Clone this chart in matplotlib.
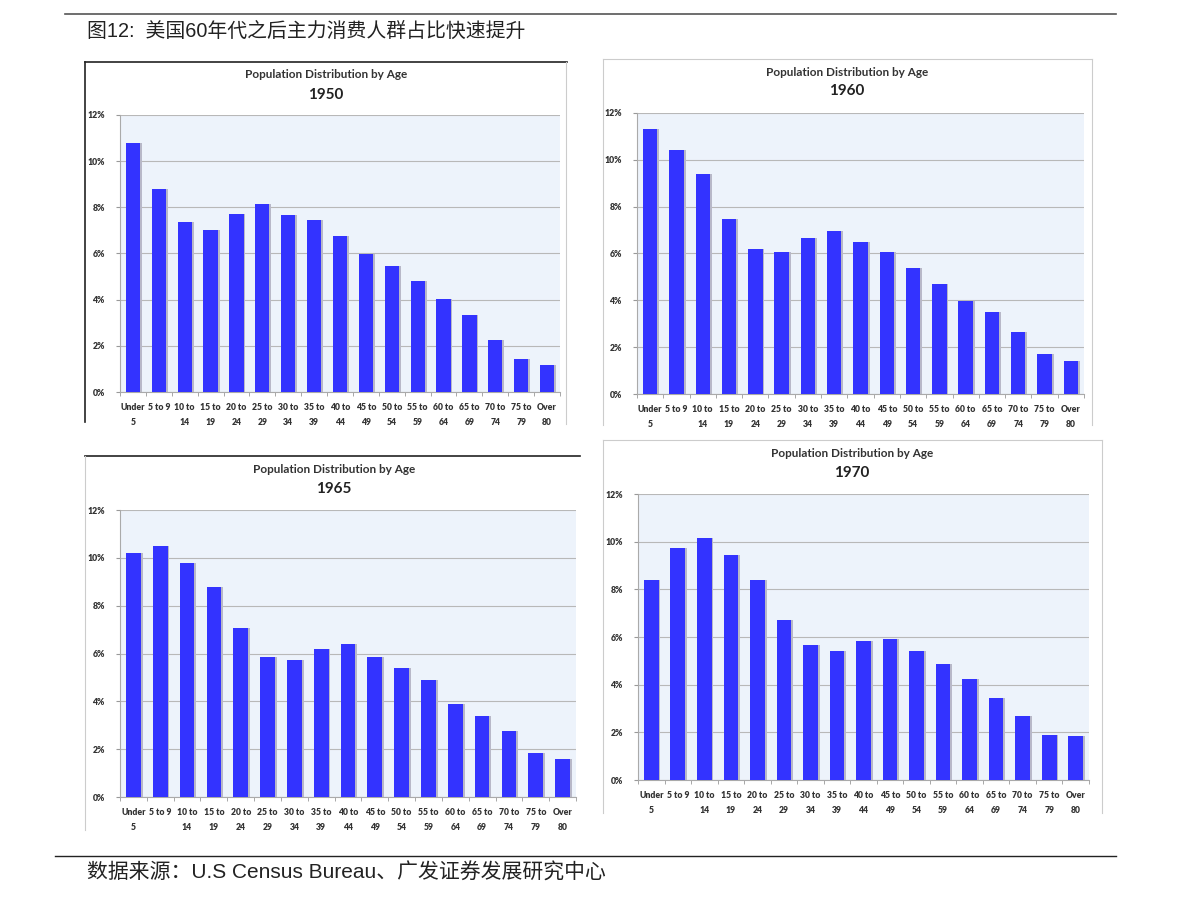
import numpy as np
import matplotlib.pyplot as plt
from matplotlib.lines import Line2D

plt.rcParams['font.family'] = ['Lato', 'DejaVu Sans']

W, H = 1191, 905

age_groups = ['Under\n5', '5 to 9', '10 to\n14', '15 to\n19', '20 to\n24', '25 to\n29',
              '30 to\n34', '35 to\n39', '40 to\n44', '45 to\n49', '50 to\n54', '55 to\n59',
              '60 to\n64', '65 to\n69', '70 to\n74', '75 to\n79', 'Over\n80']

pop_1950 = [10.78, 8.79, 7.36, 7.01, 7.71, 8.14, 7.66, 7.45, 6.75, 5.97, 5.45, 4.81,
            4.03, 3.33, 2.25, 1.43, 1.17]
pop_1960 = [11.32, 10.43, 9.40, 7.48, 6.20, 6.07, 6.67, 6.97, 6.50, 6.07, 5.38, 4.70,
            3.97, 3.50, 2.65, 1.71, 1.41]
pop_1965 = [10.20, 10.49, 9.78, 8.78, 7.07, 5.85, 5.73, 6.19, 6.40, 5.85, 5.39, 4.89,
            3.89, 3.39, 2.76, 1.84, 1.59]
pop_1970 = [8.39, 9.74, 10.16, 9.44, 8.39, 6.71, 5.67, 5.41, 5.83, 5.92, 5.41, 4.87,
            4.24, 3.44, 2.69, 1.89, 1.85]

header = '图12:  美国60年代之后主力消费人群占比快速提升'
footer = '数据来源：U.S Census Bureau、广发证券发展研究中心'

fig = plt.figure(figsize=(W / 100, H / 100), dpi=100)


def fx(x):
    return x / W


def fy(y):
    return 1 - y / H


def hline(x0, x1, y, color, lw):
    fig.add_artist(Line2D([fx(x0), fx(x1)], [fy(y), fy(y)], color=color, lw=lw))


def vline(x, y0, y1, color, lw):
    fig.add_artist(Line2D([fx(x), fx(x)], [fy(y0), fy(y1)], color=color, lw=lw))


# header / footer rules and text
hline(65, 1116, 14, '#555555', 1.2)
hline(55, 1116, 856, '#222222', 1.0)
fig.text(fx(87), fy(31), header, fontsize=14.3, va='center', ha='left',
         family=['Liberation Sans', 'Noto Sans CJK SC'], color='#222222')
fig.text(fx(87), fy(873), footer, fontsize=15, va='center', ha='left',
         family=['Liberation Sans', 'Noto Sans CJK SC'], color='#222222')

# panel frames
vline(85, 62, 422, '#222222', 1.2)
hline(85, 567, 62, '#222222', 1.2)
vline(566, 62, 424, '#cccccc', 0.8)

hline(603, 1092, 59, '#cccccc', 0.8)
vline(603, 59, 425, '#cccccc', 0.8)
vline(1092, 59, 425, '#cccccc', 0.8)

hline(85, 580, 456, '#222222', 1.2)
vline(85, 456, 830, '#cccccc', 0.8)

hline(603, 1102, 440, '#cccccc', 0.8)
vline(603, 440, 813, '#cccccc', 0.8)
vline(1102, 440, 813, '#cccccc', 0.8)

panels = [
    ('1950', pop_1950, (120, 115, 560, 392), 326, 75, 95),
    ('1960', pop_1960, (637, 113, 1084, 394), 847, 72, 91),
    ('1965', pop_1965, (120, 510, 576, 797), 334, 469, 489),
    ('1970', pop_1970, (638, 494, 1089, 780), 852, 453, 473),
]

x = np.arange(len(age_groups))

for year, vals, (x0, y0, x1, y1), tx, ty1, ty2 in panels:
    ax = fig.add_axes([fx(x0), fy(y1), (x1 - x0) / W, (y1 - y0) / H])
    ax.set_facecolor('#edf3fb')
    ax.bar(x + 0.07, vals, width=0.55, color='#b8b8c8', zorder=2)
    ax.bar(x, vals, width=0.55, color='#3333ff', zorder=3)
    ax.set_xlim(-0.5, len(age_groups) - 0.5)
    ax.set_ylim(0, 12)
    ax.set_yticks(range(0, 13, 2))
    ax.set_yticklabels([f'{v}%' for v in range(0, 13, 2)], fontsize=6.3,
                       fontweight='heavy', color='#333333')
    ax.grid(axis='y', color='#b8b8b8', lw=0.8, zorder=1)
    ax.set_xticks(x)
    ax.set_xticklabels(age_groups, fontsize=6.2, fontweight='heavy',
                       color='#333333', linespacing=1.8, va='top')
    ax.set_xticks(np.arange(-0.5, len(age_groups)), minor=True)
    ax.tick_params(axis='x', which='major', length=0, pad=8)
    ax.tick_params(axis='x', which='minor', length=3, color='#999999')
    ax.tick_params(axis='y', length=3, color='#999999', pad=8)
    for s in ['top', 'right']:
        ax.spines[s].set_visible(False)
    ax.spines['left'].set_color('#aaaaaa')
    ax.spines['bottom'].set_color('#aaaaaa')
    fig.text(fx(tx), fy(ty1), 'Population Distribution by Age', ha='center',
             va='center', fontsize=8.5, fontweight='bold', color='#333333')
    fig.text(fx(tx), fy(ty2), year, ha='center', va='center', fontsize=11,
             fontweight='bold', color='#222222')

fig.savefig('out.png', dpi=100)
